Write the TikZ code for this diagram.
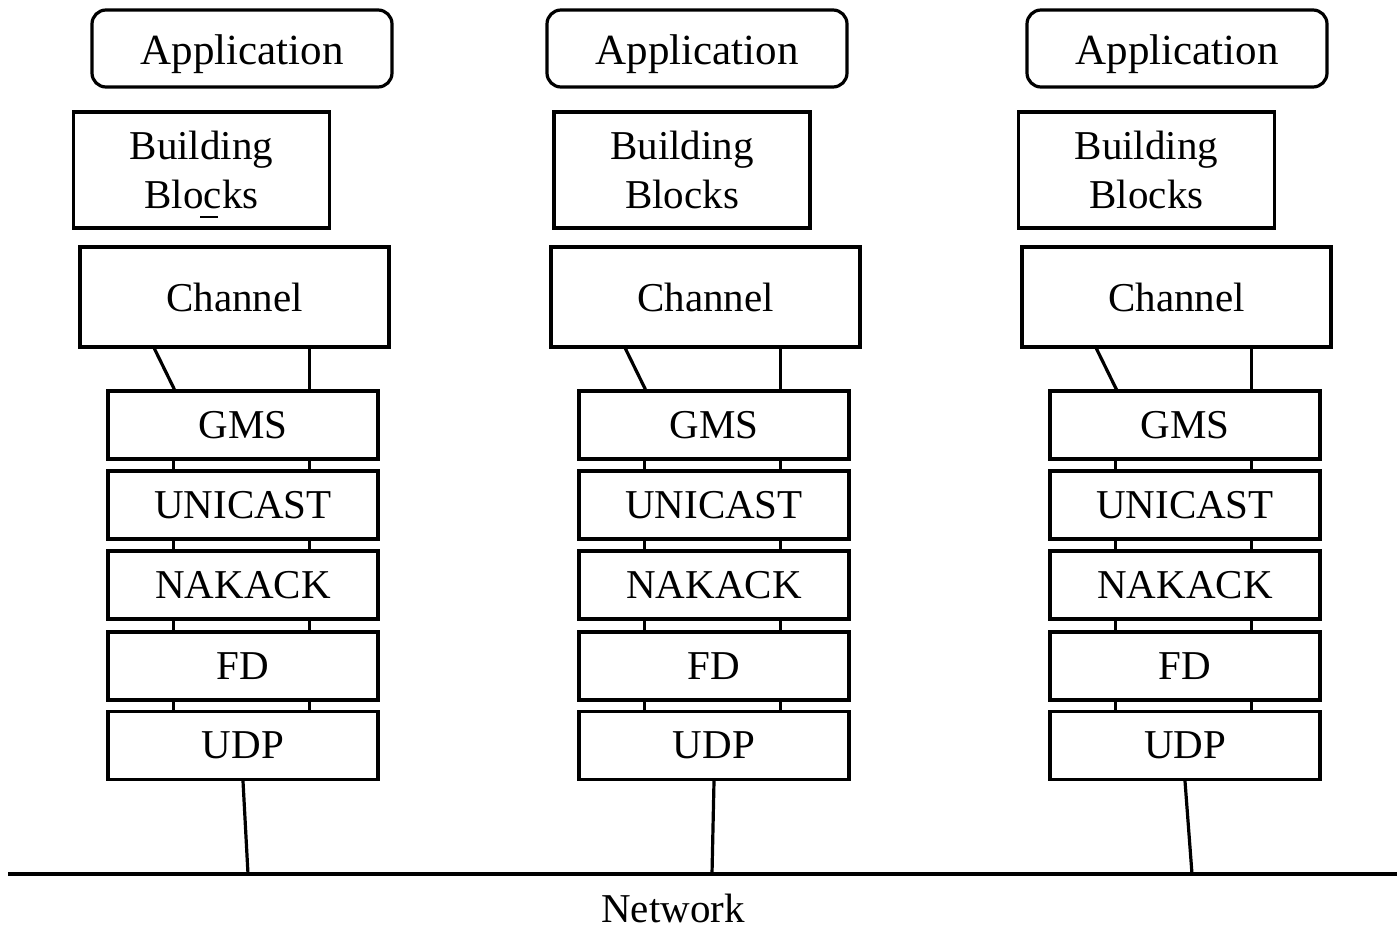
\documentclass[tikz,border=0pt]{standalone}
\usepackage{fontspec}
\setmainfont{Liberation Serif}
\usetikzlibrary{calc}
\begin{document}
\begin{tikzpicture}[x=1pt,y=-1pt,line width=3.2pt,
  box/.style={draw,rectangle,inner sep=0pt,align=center,
              font=\fontsize{41}{48}\selectfont},
  appbox/.style={box,rounded corners=14pt,minimum width=300pt,minimum height=77pt,
              font=\fontsize{43}{48}\selectfont,text depth=0pt,text height=32pt},
  bbbox/.style={box,minimum width=256pt,minimum height=116pt},
  chbox/.style={box,minimum width=309pt,minimum height=100pt},
  layer/.style={box,minimum width=270pt,minimum height=68pt},
  wire/.style={line width=3.2pt}]
\useasboundingbox (0,0) rectangle (1397,929);

% shared network bus
\coordinate (netL) at (8,874);
\coordinate (netR) at (1397,874);
\draw[wire] (netL) -- (netR);
\node[font=\fontsize{41}{48}\selectfont] (net) at (673,908) {Network};

% one protocol stack per member: index / app x / blocks x / channel x / stack x / bus tap x
\foreach \i/\ax/\bx/\cx/\sx/\nx in {1/242/201.5/234.5/243/248,
                                     2/697/682/705.5/714/712,
                                     3/1177/1146.5/1176.5/1185/1192}{
  \node[appbox] (app\i) at (\ax,48.5) {Application};
  \node[bbbox]  (bb\i)  at (\bx,170)  {Building\\[1pt]Blocks};
  \node[chbox]  (ch\i)  at (\cx,297)  {Channel};
  \node[layer]  (gms\i) at (\sx,425)  {GMS};
  \node[layer]  (uni\i) at (\sx,505)  {UNICAST};
  \node[layer]  (nak\i) at (\sx,585)  {NAKACK};
  \node[layer]  (fd\i)  at (\sx,666)  {FD};
  \node[layer]  (udp\i) at (\sx,745.5){UDP};

  % channel attaches to the top of the stack
  \draw[wire] ([xshift=76pt]ch\i.south west) -- ([xshift=68pt]gms\i.north west);
  \draw[wire] ([xshift=203pt]gms\i.north west |- ch\i.south) -- ([xshift=203pt]gms\i.north west);

  % links between adjacent layers
  \foreach \a/\b in {gms/uni,uni/nak,nak/fd,fd/udp}{
    \draw[wire] ([xshift=67pt]\a\i.south west) -- ([xshift=67pt]\b\i.north west);
    \draw[wire] ([xshift=203pt]\a\i.south west) -- ([xshift=203pt]\b\i.north west);
  }

  % tap onto the network bus
  \coordinate (tap\i) at (\nx,874);
  \draw[wire] (udp\i.south) -- (tap\i);
}

% small stray stroke under the first "Blocks"
\draw[line width=1.8pt] ([shift={(-1.5pt,-47pt)}]bb1.center) -- ([shift={(16.5pt,-47pt)}]bb1.center);
\end{tikzpicture}
\end{document}
